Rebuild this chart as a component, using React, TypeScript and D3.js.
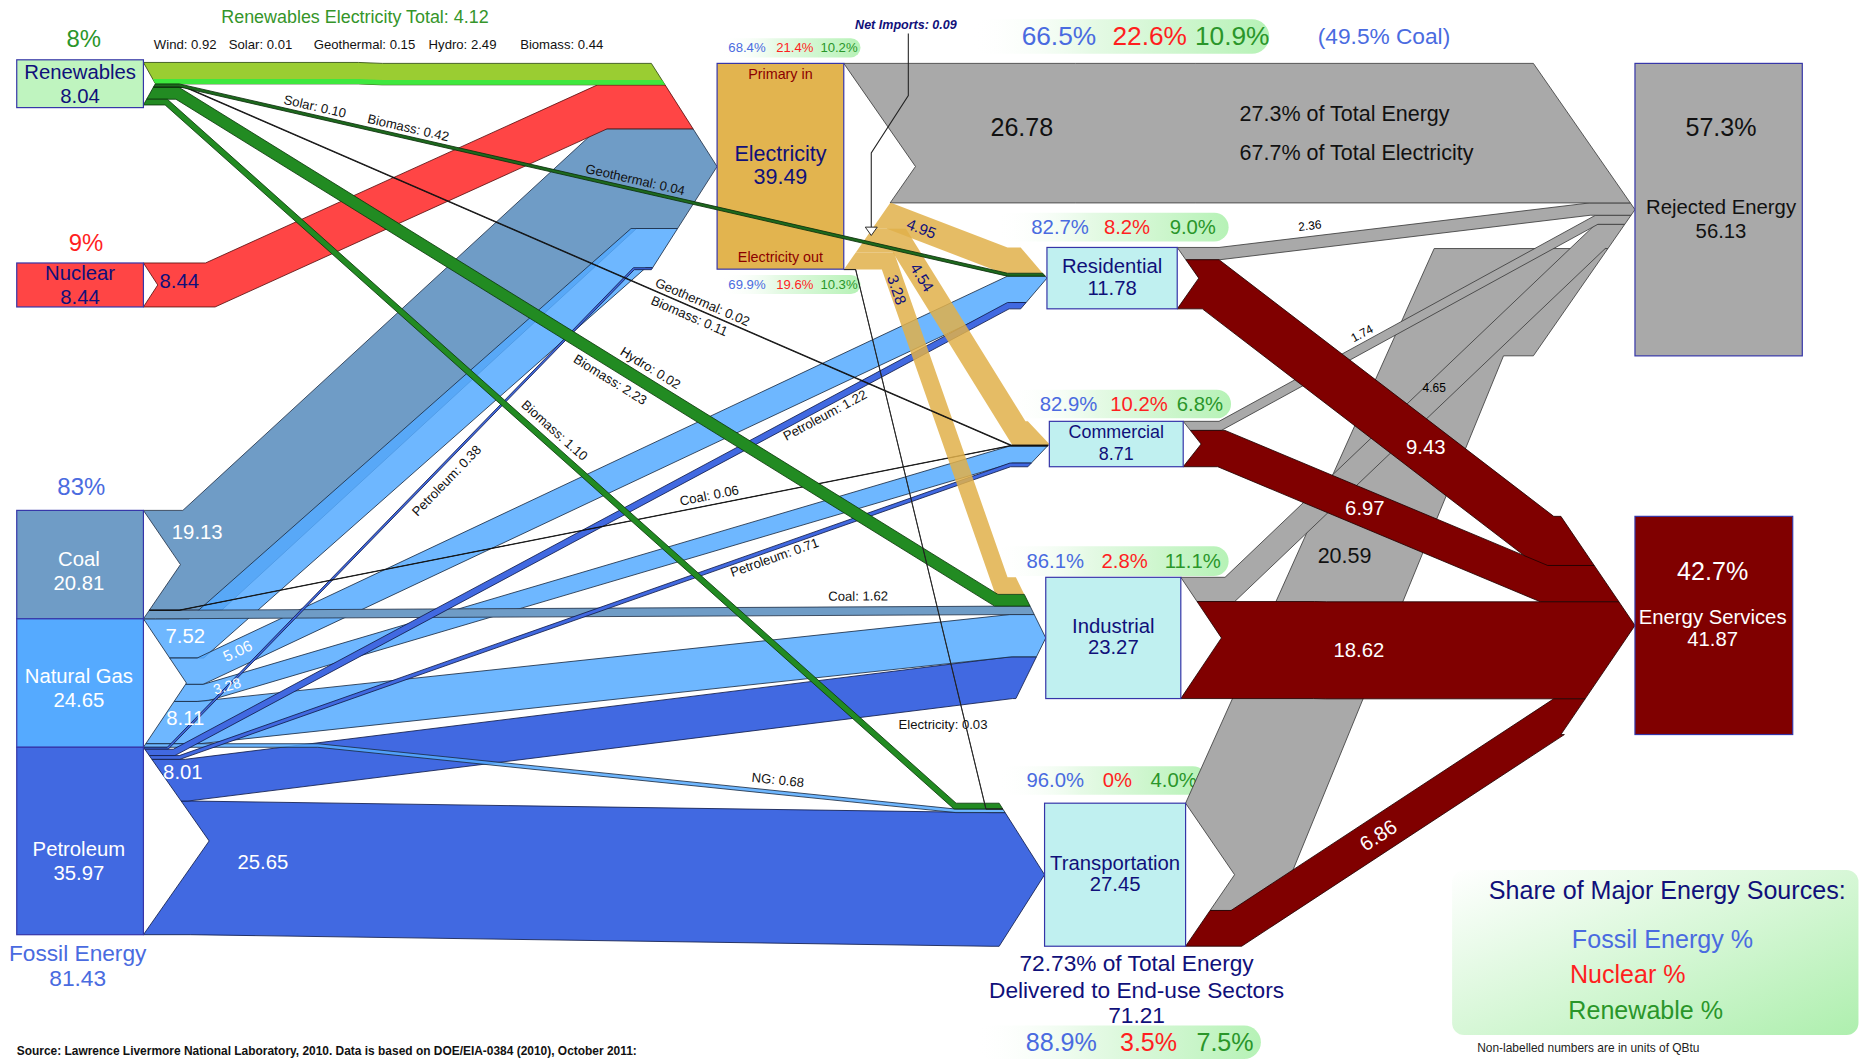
import React, { useMemo } from 'react';
import * as d3 from 'd3';

type Pt = [number, number];

const VW = 1568, VH = 886;
const NARROW = "'Liberation Sans Narrow', 'Arial Narrow', 'Liberation Sans', Arial, sans-serif";
const SANS = "'Liberation Sans', Arial, Helvetica, sans-serif";
const FOSSIL_C = '#4a6be0';
const NUC_C = '#ff1f1f';
const REN_C = '#2a962a';
const NAVY = '#10107a';

// ---------- data (quads) ----------
const NODE_IDS = ['renew', 'nuclear', 'coal', 'gas', 'pet', 'elec', 'res', 'com', 'ind', 'trans', 'rej', 'svc'];
const NODE_NAMES = ['Renewables', 'Nuclear', 'Coal', 'Natural Gas', 'Petroleum', 'Electricity', 'Residential', 'Commercial', 'Industrial', 'Transportation', 'Rejected Energy', 'Energy Services'];
const NODE_VALUES = [8.04, 8.44, 20.81, 24.65, 35.97, 39.49, 11.78, 8.71, 23.27, 27.45, 56.13, 41.87];

const FLOWS: [string, string, number][] = [
  ['renew', 'elec', 4.12], ['renew', 'res', 0.56], ['renew', 'com', 0.13], ['renew', 'ind', 2.25], ['renew', 'trans', 1.10],
  ['nuclear', 'elec', 8.44],
  ['coal', 'elec', 19.13], ['coal', 'com', 0.06], ['coal', 'ind', 1.62],
  ['gas', 'elec', 7.52], ['gas', 'res', 5.06], ['gas', 'com', 3.28], ['gas', 'ind', 8.11], ['gas', 'trans', 0.68],
  ['pet', 'elec', 0.38], ['pet', 'res', 1.22], ['pet', 'com', 0.71], ['pet', 'ind', 8.01], ['pet', 'trans', 25.65],
  ['elec', 'rej', 26.78], ['elec', 'res', 4.95], ['elec', 'com', 4.54], ['elec', 'ind', 3.28], ['elec', 'trans', 0.03],
  ['res', 'rej', 2.36], ['res', 'svc', 9.43],
  ['com', 'rej', 1.74], ['com', 'svc', 6.97],
  ['ind', 'rej', 4.65], ['ind', 'svc', 18.62],
  ['trans', 'rej', 20.59], ['trans', 'svc', 6.86],
];

const RENEW_ELEC_PARTS: [string, number][] = [['Wind', 0.92], ['Solar', 0.01], ['Geothermal', 0.15], ['Hydro', 2.49], ['Biomass', 0.44]];
const RENEW_ELEC_TOTAL = 4.12;
const NET_IMPORTS = 0.09;

const FLOW_NOTES: [string, string][] = [
  ['renew>res', 'Solar: 0.10'], ['renew>res', 'Biomass: 0.42'], ['renew>res', 'Geothermal: 0.04'],
  ['renew>com', 'Geothermal: 0.02'], ['renew>com', 'Biomass: 0.11'],
  ['renew>ind', 'Hydro: 0.02'], ['renew>ind', 'Biomass: 2.23'],
  ['renew>trans', 'Biomass: 1.10'],
  ['pet>elec', 'Petroleum: 0.38'], ['pet>res', 'Petroleum: 1.22'], ['pet>com', 'Petroleum: 0.71'],
  ['coal>com', 'Coal: 0.06'], ['coal>ind', 'Coal: 1.62'],
  ['elec>trans', 'Electricity: 0.03'], ['gas>trans', 'NG: 0.68'],
];

// shares: [fossil, nuclear, renewable] %
const SOURCE_SHARE = [8, 9, 83]; // renewables, nuclear, fossil
const FOSSIL_TOTAL = 81.43;
const SHARE_REJ_ELEC = [66.5, 22.6, 10.9];
const SHARE_ELEC_IN = [68.4, 21.4, 10.2];
const SHARE_ELEC_OUT = [69.9, 19.6, 10.3];
const SHARE_RES = [82.7, 8.2, 9.0];
const SHARE_COM = [82.9, 10.2, 6.8];
const SHARE_IND = [86.1, 2.8, 11.1];
const SHARE_TRANS = [96.0, 0, 4.0];
const SHARE_END_USE = [88.9, 3.5, 7.5];
const END_USE_TOTAL = 71.21;
const END_USE_PCT = 72.73;
const REJ_PCT = 57.3;
const SVC_PCT = 42.7;
const ELEC_LOSS_PCT_TOTAL = 27.3;
const ELEC_LOSS_PCT_ELEC = 67.7;
const COAL_OF_ELEC = 49.5;

// ---------- layout ----------
const K = d3.scaleLinear().domain([0, 1]).range([0, 4.36]);

const BOX: Record<string, { x0: number; x1: number; y0?: number; below?: string; minH?: number }> = {
  renew: { x0: 14, x1: 120, y0: 50, minH: 40 },
  nuclear: { x0: 14, x1: 120, y0: 220 },
  coal: { x0: 14, x1: 120, y0: 427 },
  gas: { x0: 14, x1: 120, below: 'coal' },
  pet: { x0: 14, x1: 120, below: 'gas' },
  elec: { x0: 600, x1: 706, y0: 53 },
  res: { x0: 876, x1: 985, y0: 207 },
  com: { x0: 878, x1: 990, y0: 352.5 },
  ind: { x0: 875, x1: 988, y0: 483 },
  trans: { x0: 874, x1: 992, y0: 672 },
  rej: { x0: 1368, x1: 1508, y0: 53 },
  svc: { x0: 1368, x1: 1500, y0: 432 },
};
const NOTCH: Record<string, number> = { renew: 10, nuclear: 12, coal: 31, gas: 36, pet: 55, elec: 60, res: 18, com: 15, ind: 34, trans: 41 };
const ARROW: Record<string, number> = { elec: 55, res: 22, com: 18, ind: 25, trans: 38, rej: 85, svc: 62 };
const IN_ORDER: Record<string, string[]> = {
  res: ['elec', 'renew', 'gas', 'pet'],
  com: ['elec', 'renew', 'coal', 'gas', 'pet'],
  ind: ['elec', 'renew', 'coal', 'gas', 'pet'],
  trans: ['renew', 'elec', 'gas', 'pet'],
};
// x where each band leaves its source level and where it reaches its target level
const ROUTE: Record<string, [number, number]> = {
  'renew>elec': [300, 320], 'renew>res': [150, 843], 'renew>com': [155, 846], 'renew>ind': [150, 835], 'renew>trans': [140, 800],
  'nuclear>elec': [172, 500],
  'coal>elec': [153, 500], 'coal>com': [150, 845], 'coal>ind': [130, 845],
  'gas>elec': [158, 528], 'gas>res': [165, 843], 'gas>com': [170, 845], 'gas>ind': [165, 845], 'gas>trans': [266, 800],
  'pet>elec': [140, 530], 'pet>res': [145, 843], 'pet>com': [150, 845], 'pet>ind': [155, 845], 'pet>trans': [160, 830],
  'elec>rej': [900, 1000], 'elec>res': [746, 843], 'elec>com': [758, 858], 'elec>ind': [748, 843], 'elec>trans': [716, 825],
  'res>rej': [1020, 1330], 'res>svc': [1020, 1300],
  'com>rej': [1020, 1335], 'com>svc': [1025, 1295],
  'ind>rej': [1025, 1335], 'ind>svc': [1100, 1110],
  'trans>svc': [1030, 1300],
};
const BEND_TRANS_REJ = { srcBot: 1068, tgtTop: 1200, tgtBot: 1258 };

// [x on band edge, perpendicular offset, rotate, dx]
const NOTE_PLACE: [number, number, boolean, number][] = [
  [262, -7, true, 0], [340, -7, true, 0], [530, -7, true, 0],
  [585, -7, true, 0], [580, 8, true, 0],
  [540, -8, true, 0], [520, 18, true, 0],
  [458, -9, true, 0],
  [365, 12, true, 0], [685, 11, true, 0], [645, 9, true, 0],
  [595, -8, true, 0], [718, -9, true, 0],
  [808, 0, false, -19], [650, -9, true, 0],
];

// value labels on bands: key, x, offset, rotate, size, color
const VALUE_PLACE: [string, number, number, boolean, number, string][] = [
  ['nuclear>elec', 150, 15, false, 17, NAVY],
  ['coal>elec', 165, 29, false, 17, '#fff'],
  ['gas>elec', 155, 14, false, 17, '#fff'],
  ['gas>res', 195, 9, true, 13, '#fff'],
  ['gas>com', 188, 7, true, 12, '#fff'],
  ['gas>ind', 155, 14, false, 17, '#fff'],
  ['pet>ind', 153, 11, false, 17, '#fff'],
  ['pet>trans', 220, 50, false, 17, '#fff'],
  ['elec>res', 775, 11, true, 13, NAVY],
  ['elec>com', 780, 10, true, 13, NAVY],
  ['elec>ind', 758, 8, true, 13, NAVY],
  ['res>svc', 1193, 24, false, 17, '#fff'],
  ['com>svc', 1142, 16, false, 17, '#fff'],
  ['ind>svc', 1137, 40, false, 17, '#fff'],
  ['trans>svc', 1145, 15, true, 17, '#fff'],
  ['res>rej', 1097, -9, true, 10, '#000'],
  ['com>rej', 1143, -7, true, 10, '#000'],
  ['ind>rej', 1200, 8, false, 10, '#000'],
];

const DRAW_ORDER = [
  'trans>rej', 'ind>rej', 'com>rej', 'res>rej', 'elec>rej',
  'res>svc', 'com>svc', 'ind>svc', 'trans>svc',
  'pet>trans', 'pet>ind', 'coal>elec', 'nuclear>elec', 'gas>elec', 'gas>res', 'gas>com', 'gas>ind', 'gas>trans',
  'coal>ind', 'pet>elec', 'pet>res', 'pet>com', 'coal>com',
  'renew>elec', 'elec>res', 'elec>com', 'elec>ind',
  'renew>com', 'renew>ind', 'renew>trans', 'elec>trans',
];
// drawn above the node boxes (the residential line crosses the electricity box)
const OVER_NODES = ['renew>res'];

interface NodeG { id: string; x0: number; x1: number; y0: number; y1: number; outC: number; inC: number; notch: (y: number) => number; arrow: (y: number) => number; }
interface LinkG { key: string; s: string; t: string; v: number; th: number; sy: Pt; ty: Pt; top: Pt[]; poly: Pt[]; }

function dedupe(pts: Pt[]): Pt[] {
  const out: Pt[] = [];
  pts.forEach((p) => {
    const q = out[out.length - 1];
    if (!q || Math.hypot(p[0] - q[0], p[1] - q[1]) > 0.01) out.push(p);
  });
  return out;
}

function intersect(p1: Pt, d1: Pt, p2: Pt, d2: Pt): Pt | null {
  const den = d1[0] * d2[1] - d1[1] * d2[0];
  if (Math.abs(den) < 1e-6) return null;
  const u = ((p2[0] - p1[0]) * d2[1] - (p2[1] - p1[1]) * d2[0]) / den;
  return [p1[0] + u * d1[0], p1[1] + u * d1[1]];
}

function cutPts(fn: (y: number) => number, ya: number, yb: number, c: number): Pt[] {
  const pts: Pt[] = [[fn(ya), ya]];
  if ((c - ya) * (c - yb) < 0) pts.push([fn(c), c]);
  pts.push([fn(yb), yb]);
  return pts;
}

// band with constant perpendicular thickness, cut by the source notch and the target arrow
function bandP(s0: number, t0: number, th: number, S: NodeG, T: NodeG, xa: number, xb: number) {
  const sc = S.notch, tc = T.arrow;
  const xA = Math.max(xa, sc(s0) + 1);
  const xB = Math.min(xb, tc(t0) - 1);
  const top = dedupe([[sc(s0), s0], [xA, s0], [xB, t0], [tc(t0), t0]]);
  const segs = top.slice(0, -1).map((p, i) => {
    const q = top[i + 1];
    const L = Math.hypot(q[0] - p[0], q[1] - p[1]);
    const d: Pt = [(q[0] - p[0]) / L, (q[1] - p[1]) / L];
    const n: Pt = [-d[1], d[0]];
    return { p: [p[0] + n[0] * th, p[1] + n[1] * th] as Pt, d, n };
  });
  const mids: Pt[] = [];
  for (let i = 1; i < top.length - 1; i++) {
    const a = segs[i - 1], b = segs[i];
    mids.push(intersect(a.p, a.d, b.p, b.d) ?? [top[i][0] + b.n[0] * th, top[i][1] + b.n[1] * th]);
  }
  const poly: Pt[] = [
    ...top.slice(0, -1),
    ...cutPts(tc, t0, t0 + th, T.inC),
    ...mids.reverse(),
    ...cutPts(sc, s0 + th, s0, S.outC),
  ];
  return { top, poly };
}

function build() {
  const nodes: Record<string, NodeG> = {};
  NODE_IDS.forEach((id, i) => {
    const b = BOX[id];
    const y0 = b.below ? nodes[b.below].y1 : (b.y0 as number);
    const h = Math.max(K(NODE_VALUES[i]), b.minH ?? 0);
    nodes[id] = { id, x0: b.x0, x1: b.x1, y0, y1: y0 + h, outC: 0, inC: 0, notch: () => b.x1, arrow: () => b.x0 };
  });
  const links: LinkG[] = FLOWS.map(([s, t, v]) => ({ key: `${s}>${t}`, s, t, v, th: K(v), sy: [0, 0], ty: [0, 0], top: [], poly: [] }));

  NODE_IDS.forEach((id) => {
    const n = nodes[id];
    const outs = links.filter((l) => l.s === id);
    if (outs.length) {
      const tot = d3.sum(outs, (l) => l.th);
      let y = n.y0 + Math.max(0, (n.y1 - n.y0 - tot) / 2);
      const g0 = y;
      outs.forEach((l) => { l.sy = [y, y + l.th]; y += l.th; });
      const c = (g0 + y) / 2, hh = (y - g0) / 2, D = NOTCH[id] ?? 0;
      n.outC = c;
      n.notch = (yy) => n.x1 + D * Math.max(0, 1 - Math.abs(yy - c) / hh);
    }
    let ins = links.filter((l) => l.t === id);
    const order = IN_ORDER[id];
    if (order) ins = order.map((s) => ins.find((l) => l.s === s) as LinkG);
    if (ins.length) {
      let y = n.y0;
      const g0 = y;
      ins.forEach((l) => { l.ty = [y, y + l.th]; y += l.th; });
      const c = (g0 + y) / 2, hh = (y - g0) / 2, D = ARROW[id] ?? 0;
      n.inC = c;
      n.arrow = (yy) => n.x0 - D * Math.min(1, Math.abs(yy - c) / hh);
    }
  });

  links.forEach((l) => {
    const S = nodes[l.s], T = nodes[l.t];
    if (l.key === 'trans>rej') {
      const r = BEND_TRANS_REJ;
      const [s0, s1] = l.sy, [t0, t1] = l.ty;
      l.top = [[S.notch(s0), s0], [r.tgtTop, t0], [T.arrow(t0), t0]];
      l.poly = [
        [S.notch(s0), s0], [r.tgtTop, t0],
        ...cutPts(T.arrow, t0, t1, T.inC),
        [r.tgtBot, t1], [r.srcBot, s1],
        ...cutPts(S.notch, s1, s0, S.outC),
      ];
    } else {
      const [xa, xb] = ROUTE[l.key];
      const b = bandP(l.sy[0], l.ty[0], l.th, S, T, xa, xb);
      l.top = b.top;
      l.poly = b.poly;
    }
  });

  // wind share drawn as a brighter strip along the bottom of the renewable electricity band
  const re = links.find((l) => l.key === 'renew>elec') as LinkG;
  const windTh = K(RENEW_ELEC_PARTS[0][1]);
  const [xa, xb] = ROUTE['renew>elec'];
  const wind = bandP(re.sy[1] - windTh, re.ty[1] - windTh, windTh, nodes.renew, nodes.elec, xa, xb).poly;

  return { nodes, links, wind };
}

function labelAt(top: Pt[], x: number, off: number, rotate: boolean) {
  let i = 0;
  while (i < top.length - 2 && x > top[i + 1][0]) i++;
  const p = top[i], q = top[i + 1];
  const u = (x - p[0]) / ((q[0] - p[0]) || 1);
  const y = p[1] + u * (q[1] - p[1]);
  const ang = Math.atan2(q[1] - p[1], q[0] - p[0]);
  if (rotate) return { x: x - Math.sin(ang) * off, y: y + Math.cos(ang) * off, rot: (ang * 180) / Math.PI };
  return { x, y: y + off, rot: 0 };
}

function linkStyle(l: LinkG): { fill: string; stroke: string; op: number } {
  if (l.t === 'rej') return { fill: '#a9a9a9', stroke: '#3c3c3c', op: 1 };
  if (l.t === 'svc') return { fill: '#800000', stroke: '#220000', op: 1 };
  if (l.s === 'elec') return l.t === 'trans' ? { fill: '#222', stroke: '#222', op: 1 } : { fill: '#e0b04a', stroke: 'none', op: 0.85 };
  if (l.s === 'renew') {
    if (l.t === 'elec') return { fill: '#9acd32', stroke: '#2d4a10', op: 1 };
    if (l.t === 'res') return { fill: '#1d6a1d', stroke: '#0b2e0b', op: 1 };
    if (l.t === 'com') return { fill: '#111', stroke: '#111', op: 1 };
    return { fill: '#228b22', stroke: '#0c380c', op: 1 };
  }
  if (l.s === 'nuclear') return { fill: '#ff4545', stroke: '#5a1010', op: 1 };
  if (l.s === 'coal') return l.t === 'com' ? { fill: '#111', stroke: '#111', op: 1 } : { fill: '#6f9cc6', stroke: '#24344a', op: 1 };
  if (l.s === 'gas') return { fill: '#55aaff', stroke: '#1a2c44', op: 0.85 };
  return { fill: '#4169e1', stroke: '#101c4a', op: 1 };
}

const pts = (p: Pt[]) => p.map((q) => `${q[0].toFixed(2)},${q[1].toFixed(2)}`).join(' ');
const fmtPct = (v: number) => (v === 0 ? '0%' : `${v.toFixed(1)}%`);
const SHARE_COLORS = [FOSSIL_C, NUC_C, REN_C];

const PILLS: { vals: number[]; x: number; y: number; w: number; h: number; tx: number[]; size: number }[] = [
  { vals: SHARE_REJ_ELEC, x: 812, y: 16, w: 250, h: 29, tx: [886, 962, 1031], size: 22 },
  { vals: SHARE_ELEC_IN, x: 602, y: 32, w: 118, h: 16, tx: [625, 665, 702], size: 11 },
  { vals: SHARE_ELEC_OUT, x: 602, y: 230, w: 118, h: 16, tx: [625, 665, 702], size: 11 },
  { vals: SHARE_RES, x: 833, y: 178, w: 195, h: 24, tx: [887, 943, 998], size: 17 },
  { vals: SHARE_COM, x: 842, y: 326, w: 188, h: 24, tx: [894, 953, 1004], size: 17 },
  { vals: SHARE_IND, x: 830, y: 457, w: 198, h: 25, tx: [883, 941, 998], size: 17 },
  { vals: SHARE_TRANS, x: 835, y: 641, w: 175, h: 24, tx: [883, 935, 982], size: 17 },
  { vals: SHARE_END_USE, x: 815, y: 858, w: 240, h: 28, tx: [888, 961, 1025], size: 21 },
];

export default function App() {
  const g = useMemo(build, []);
  const { nodes, links, wind } = g;
  const byKey = (k: string) => links.find((l) => l.key === k) as LinkG;
  const nv = (id: string) => NODE_VALUES[NODE_IDS.indexOf(id)].toFixed(2);
  const nn = (id: string) => NODE_NAMES[NODE_IDS.indexOf(id)];
  const cx = (id: string) => (nodes[id].x0 + nodes[id].x1) / 2;
  const cy = (id: string) => (nodes[id].y0 + nodes[id].y1) / 2;
  const partX = [155, 218, 305, 387, 470];

  const drawLink = (k: string) => {
    const l = byKey(k);
    const st = linkStyle(l);
    return (
      <polygon key={k} points={pts(l.poly)} fill={st.fill} fillOpacity={st.op}
        stroke={st.stroke} strokeWidth={0.7} strokeLinejoin="round" />
    );
  };

  return (
    <svg width={1874} height={1059} viewBox={`0 0 ${VW} ${VH}`} style={{ position: 'absolute', left: 0, top: 0, background: '#fff' }}>
      <defs>
        <linearGradient id="pill" x1="0" x2="1" y1="0" y2="0">
          <stop offset="0" stopColor="#ffffff" stopOpacity="0" />
          <stop offset="0.4" stopColor="#e6fae6" />
          <stop offset="1" stopColor="#b6f2b6" />
        </linearGradient>
        <linearGradient id="legend" x1="0" y1="0" x2="1" y2="1">
          <stop offset="0" stopColor="#ffffff" />
          <stop offset="1" stopColor="#aeefae" />
        </linearGradient>
      </defs>

      {/* percentage pills */}
      {PILLS.map((p, i) => (
        <g key={`pill${i}`}>
          <rect x={p.x} y={p.y} width={p.w} height={p.h} rx={p.h / 2} fill="url(#pill)" />
          {p.vals.map((v, j) => (
            <text key={j} x={p.tx[j]} y={p.y + p.h / 2} fill={SHARE_COLORS[j]} fontFamily={SANS} fontSize={p.size}
              textAnchor="middle" dominantBaseline="central">{fmtPct(v)}</text>
          ))}
        </g>
      ))}

      {/* flows */}
      {DRAW_ORDER.map(drawLink)}
      <polygon points={pts(wind)} fill="#3ee83e" stroke="none" />

      {/* net imports annotation */}
      <polyline points="760,28 760,80 729,128 729,190" fill="none" stroke="#222" strokeWidth={0.9} />
      <polygon points="724,190 734,190 729,197" fill="#fff" stroke="#222" strokeWidth={0.8} />
      <text x={758} y={21} fill={NAVY} fontFamily={SANS} fontSize={10.5} fontStyle="italic" fontWeight="bold"
        textAnchor="middle" dominantBaseline="central">{`Net Imports: ${NET_IMPORTS.toFixed(2)}`}</text>

      {/* nodes */}
      {NODE_IDS.map((id) => {
        const n = nodes[id];
        const fill = ({ renew: '#bff4bf', nuclear: '#ff4545', coal: '#6f9cc6', gas: '#55aaff', pet: '#4169e1', elec: '#e2b44f',
          res: '#c0f0f0', com: '#c0f0f0', ind: '#c0f0f0', trans: '#c0f0f0', rej: '#a9a9a9', svc: '#800000' } as Record<string, string>)[id];
        return <rect key={id} x={n.x0} y={n.y0} width={n.x1 - n.x0} height={n.y1 - n.y0} fill={fill} stroke="#3535a8" strokeWidth={1} />;
      })}
      {OVER_NODES.map(drawLink)}

      {/* source node labels */}
      {(['renew', 'nuclear'] as string[]).map((id) => (
        <text key={id} x={cx(id)} fill={NAVY} fontFamily={NARROW} fontSize={17} textAnchor="middle" dominantBaseline="central">
          <tspan x={cx(id)} y={cy(id) - 10}>{nn(id)}</tspan>
          <tspan x={cx(id)} y={cy(id) + 10}>{nv(id)}</tspan>
        </text>
      ))}
      {(['coal', 'gas', 'pet'] as string[]).map((id, i) => (
        <text key={id} fill="#fff" fontFamily={NARROW} fontSize={17} textAnchor="middle" dominantBaseline="central">
          <tspan x={cx(id) - 1} y={cy(id) - 5 + [0, -1, 12][i]}>{nn(id)}</tspan>
          <tspan x={cx(id) - 1} y={cy(id) + 15 + [0, -1, 12][i]}>{nv(id)}</tspan>
        </text>
      ))}
      <text x={70} y={32} fill={REN_C} fontFamily={SANS} fontSize={20} textAnchor="middle" dominantBaseline="central">{`${SOURCE_SHARE[0]}%`}</text>
      <text x={72} y={203} fill={NUC_C} fontFamily={SANS} fontSize={20} textAnchor="middle" dominantBaseline="central">{`${SOURCE_SHARE[1]}%`}</text>
      <text x={68} y={407} fill={FOSSIL_C} fontFamily={SANS} fontSize={20} textAnchor="middle" dominantBaseline="central">{`${SOURCE_SHARE[2]}%`}</text>
      <text fill={FOSSIL_C} fontFamily={NARROW} fontSize={19} textAnchor="middle" dominantBaseline="central">
        <tspan x={65} y={797}>Fossil Energy</tspan>
        <tspan x={65} y={818}>{FOSSIL_TOTAL.toFixed(2)}</tspan>
      </text>

      {/* renewable electricity breakdown */}
      <text x={297} y={14} fill="#35952a" fontFamily={NARROW} fontSize={15} textAnchor="middle" dominantBaseline="central">
        {`Renewables Electricity Total: ${RENEW_ELEC_TOTAL.toFixed(2)}`}
      </text>
      {RENEW_ELEC_PARTS.map(([name, v], i) => (
        <text key={name} x={partX[i]} y={37} fill="#111" fontFamily={NARROW} fontSize={11} textAnchor="middle" dominantBaseline="central">
          {`${name}: ${v.toFixed(2)}`}
        </text>
      ))}

      {/* electricity node */}
      <text x={cx('elec')} y={62} fill="#8b0000" fontFamily={NARROW} fontSize={12} textAnchor="middle" dominantBaseline="central">Primary in</text>
      <text fill={NAVY} fontFamily={NARROW} fontSize={18} textAnchor="middle" dominantBaseline="central">
        <tspan x={cx('elec')} y={129}>{nn('elec')}</tspan>
        <tspan x={cx('elec')} y={148}>{nv('elec')}</tspan>
      </text>
      <text x={cx('elec')} y={215} fill="#8b0000" fontFamily={NARROW} fontSize={12} textAnchor="middle" dominantBaseline="central">Electricity out</text>

      {/* sector labels */}
      {(['res', 'com', 'ind', 'trans'] as string[]).map((id) => (
        <text key={id} fill={NAVY} fontFamily={NARROW} fontSize={id === 'com' ? 15 : 17} textAnchor="middle" dominantBaseline="central">
          <tspan x={cx(id)} y={cy(id) - 10}>{nn(id)}</tspan>
          <tspan x={cx(id)} y={cy(id) + 8}>{nv(id)}</tspan>
        </text>
      ))}

      {/* sink labels */}
      <text x={1440} y={106} fill="#111" fontFamily={SANS} fontSize={21} textAnchor="middle" dominantBaseline="central">{`${REJ_PCT}%`}</text>
      <text fill="#111" fontFamily={NARROW} fontSize={17} textAnchor="middle" dominantBaseline="central">
        <tspan x={1440} y={173}>{nn('rej')}</tspan>
        <tspan x={1440} y={193}>{nv('rej')}</tspan>
      </text>
      <text x={1433} y={478} fill="#fff" fontFamily={SANS} fontSize={21} textAnchor="middle" dominantBaseline="central">{`${SVC_PCT}%`}</text>
      <text fill="#fff" fontFamily={NARROW} fontSize={17} textAnchor="middle" dominantBaseline="central">
        <tspan x={1433} y={516}>{nn('svc')}</tspan>
        <tspan x={1433} y={535}>{nv('svc')}</tspan>
      </text>

      {/* electricity losses band labels */}
      <text x={855} y={106} fill="#111" fontFamily={SANS} fontSize={21} textAnchor="middle" dominantBaseline="central">
        {byKey('elec>rej').v.toFixed(2)}
      </text>
      <text x={1125} y={95} fill="#111" fontFamily={SANS} fontSize={18} textAnchor="middle" dominantBaseline="central">
        {`${ELEC_LOSS_PCT_TOTAL}% of Total Energy`}
      </text>
      <text x={1135} y={128} fill="#111" fontFamily={SANS} fontSize={18} textAnchor="middle" dominantBaseline="central">
        {`${ELEC_LOSS_PCT_ELEC}% of Total Electricity`}
      </text>
      <text x={1158} y={30} fill={FOSSIL_C} fontFamily={SANS} fontSize={19} textAnchor="middle" dominantBaseline="central">
        {`(${COAL_OF_ELEC}% Coal)`}
      </text>
      <text x={1125} y={465} fill="#111" fontFamily={SANS} fontSize={18} textAnchor="middle" dominantBaseline="central">
        {byKey('trans>rej').v.toFixed(2)}
      </text>

      {/* value labels on bands */}
      {VALUE_PLACE.map(([k, x, off, rot, size, color]) => {
        const l = byKey(k);
        const p = labelAt(l.top, x, off, rot);
        return (
          <text key={`v${k}`} transform={`translate(${p.x},${p.y}) rotate(${p.rot})`} fill={color} fontFamily={SANS}
            fontSize={size} textAnchor="middle" dominantBaseline="central">{l.v.toFixed(2)}</text>
        );
      })}

      {/* flow notes */}
      {FLOW_NOTES.map(([k, txt], i) => {
        const [x, off, rot, dx] = NOTE_PLACE[i];
        const p = labelAt(byKey(k).top, x, off, rot);
        return (
          <text key={`n${i}`} transform={`translate(${p.x + dx},${p.y}) rotate(${p.rot})`} fill="#111" fontFamily={NARROW}
            fontSize={11} textAnchor="middle" dominantBaseline="central">{txt}</text>
        );
      })}

      {/* end-use total */}
      <text fill={NAVY} fontFamily={NARROW} fontSize={19} textAnchor="middle" dominantBaseline="central">
        <tspan x={951} y={806}>{`${END_USE_PCT}% of Total Energy`}</tspan>
        <tspan x={951} y={828}>Delivered to End-use Sectors</tspan>
        <tspan x={951} y={849}>{END_USE_TOTAL.toFixed(2)}</tspan>
      </text>

      {/* legend */}
      <rect x={1215} y={728} width={340} height={138} rx={10} fill="url(#legend)" />
      <text x={1395} y={745} fill={NAVY} fontFamily={NARROW} fontSize={21} textAnchor="middle" dominantBaseline="central">Share of Major Energy Sources:</text>
      <text x={1391} y={786} fill={FOSSIL_C} fontFamily={NARROW} fontSize={21} textAnchor="middle" dominantBaseline="central">Fossil Energy %</text>
      <text x={1362} y={815} fill={NUC_C} fontFamily={NARROW} fontSize={21} textAnchor="middle" dominantBaseline="central">Nuclear %</text>
      <text x={1377} y={845} fill={REN_C} fontFamily={NARROW} fontSize={21} textAnchor="middle" dominantBaseline="central">Renewable %</text>
      <text x={1236} y={880} fill="#222" fontFamily={NARROW} fontSize={10}>Non-labelled numbers are in units of QBtu</text>
      <text x={14} y={883} fill="#111" fontFamily={NARROW} fontSize={10} fontWeight="bold">
        Source: Lawrence Livermore National Laboratory, 2010. Data is based on DOE/EIA-0384 (2010), October 2011:
      </text>
    </svg>
  );
}
